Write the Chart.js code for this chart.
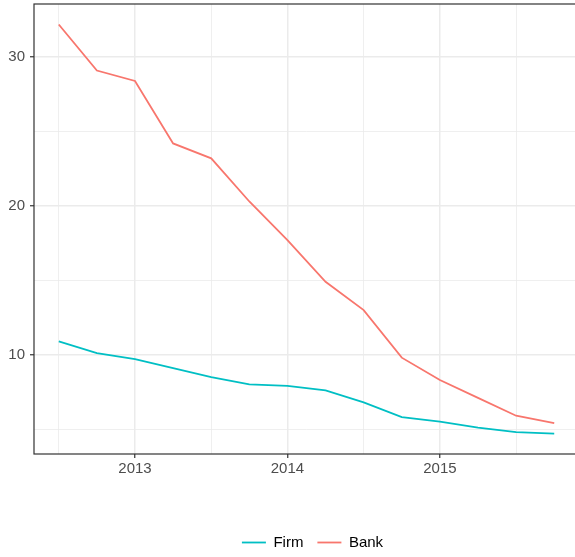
<!DOCTYPE html>
<html>
<head>
<meta charset="utf-8">
<script src="https://cdn.jsdelivr.net/npm/chart.js@4"></script>
<style>
  html, body { margin: 0; padding: 0; background: #fff; overflow: hidden; }
  #wrap { width: 575px; height: 557px; overflow: hidden; }
  #box { width: 579px; height: 557px; }
</style>
</head>
<body>
<div id="wrap"><div id="box"><canvas id="myChart"></canvas></div></div>
<script>
// quarterly observations
let quarters = [2012.5, 2012.75, 2013, 2013.25, 2013.5, 2013.75, 2014, 2014.25, 2014.5, 2014.75, 2015, 2015.25, 2015.5, 2015.75];
let firm = [10.9, 10.1, 9.7, 9.1, 8.5, 8.0, 7.9, 7.6, 6.8, 5.8, 5.5, 5.1, 4.8, 4.7];
let bank = [32.2, 29.1, 28.4, 24.2, 23.2, 20.3, 17.7, 14.9, 13.0, 9.8, 8.3, 7.1, 5.9, 5.4];

let xTicks = [2013, 2014, 2015];
let yTicks = [10, 20, 30];
let xGrid = [2012.5, 2013, 2013.5, 2014, 2014.5, 2015, 2015.5];
let yGrid = [5, 10, 15, 20, 25, 30];

function toPoints(ys) {
    return quarters.map((q, i) => ({x: q, y: ys[i]}));
}

// ggplot style panel border
const panelBorder = {
    id: 'panelBorder',
    afterDatasetsDraw(chart) {
        const a = chart.chartArea;
        const ctx = chart.ctx;
        ctx.save();
        ctx.strokeStyle = '#333333';
        ctx.lineWidth = 1.2;
        ctx.strokeRect(a.left, a.top, a.right - a.left, a.bottom - a.top);
        ctx.restore();
    }
};

// nudge the legend a little to the right, like the original
const legendShift = {
    id: 'legendShift',
    afterLayout(chart) {
        if (chart.legend) {
            chart.legend.left += 6;
            chart.legend.right += 6;
        }
    }
};

var ctx = document.getElementById('myChart').getContext('2d');
var chart = new Chart(ctx, {
    type: 'line',
    data: {
        datasets: [{
            label: 'Firm',
            data: toPoints(firm),
            borderColor: '#00BFC4',
            backgroundColor: '#00BFC4',
            borderWidth: 1.8,
            pointRadius: 0,
            tension: 0
        }, {
            label: 'Bank',
            data: toPoints(bank),
            borderColor: '#F8766D',
            backgroundColor: '#F8766D',
            borderWidth: 1.8,
            pointRadius: 0,
            tension: 0
        }]
    },
    options: {
        responsive: true,
        maintainAspectRatio: false,
        animation: false,
        layout: { padding: { top: 4, left: 0, right: 0, bottom: -3 } },
        plugins: {
            tooltip: { enabled: false },
            legend: {
                position: 'bottom',
                fullSize: false,
                labels: {
                    usePointStyle: true,
                    pointStyle: 'line',
                    pointStyleWidth: 24,
                    boxHeight: 15,
                    padding: 14,
                    color: '#000000',
                    font: { family: 'Liberation Sans', size: 15 }
                }
            }
        },
        scales: {
            x: {
                type: 'linear',
                min: 2012.3375,
                max: 2015.9125,
                afterBuildTicks: (s) => { s.ticks = xGrid.map(v => ({value: v})); },
                afterFit: (s) => { s.height = 67; s.paddingLeft = 0; s.paddingRight = 0; },
                border: { display: false },
                grid: {
                    color: '#EBEBEB',
                    lineWidth: (c) => xTicks.includes(c.tick && c.tick.value) ? 1.5 : 0.8,
                    tickColor: (c) => xTicks.includes(c.tick && c.tick.value) ? '#333333' : 'rgba(0,0,0,0)',
                    tickWidth: 1.2,
                    tickLength: 4
                },
                ticks: {
                    autoSkip: false,
                    maxRotation: 0,
                    padding: 2,
                    color: '#4D4D4D',
                    font: { family: 'Liberation Sans', size: 15 },
                    callback: (v) => xTicks.includes(v) ? String(v) : ''
                }
            },
            y: {
                type: 'linear',
                min: 3.325,
                max: 33.575,
                afterBuildTicks: (s) => { s.ticks = yGrid.map(v => ({value: v})); },
                afterFit: (s) => { s.width = 34; s.paddingTop = 0; s.paddingBottom = 0; },
                border: { display: false },
                grid: {
                    color: '#EBEBEB',
                    lineWidth: (c) => yTicks.includes(c.tick && c.tick.value) ? 1.5 : 0.8,
                    tickColor: (c) => yTicks.includes(c.tick && c.tick.value) ? '#333333' : 'rgba(0,0,0,0)',
                    tickWidth: 1.2,
                    tickLength: 4
                },
                ticks: {
                    autoSkip: false,
                    padding: 5,
                    color: '#4D4D4D',
                    font: { family: 'Liberation Sans', size: 15 },
                    callback: (v) => yTicks.includes(v) ? String(v) : ''
                }
            }
        }
    },
    plugins: [panelBorder, legendShift]
});
</script>
</body>
</html>
